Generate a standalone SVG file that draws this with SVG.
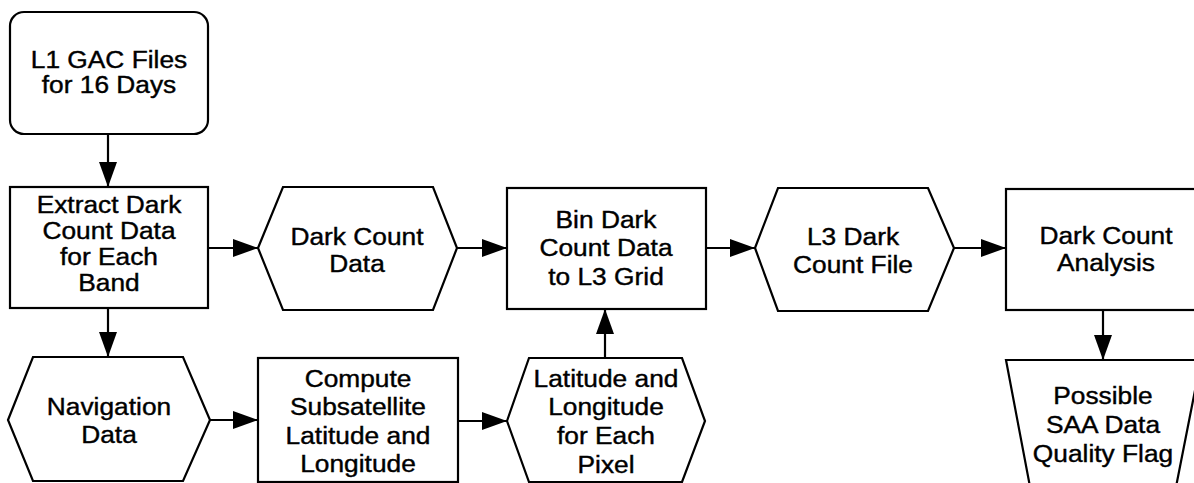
<svg xmlns="http://www.w3.org/2000/svg" width="1194" height="483" viewBox="0 0 1194 483">
<defs>
<style>
.s{fill:#fff;stroke:#000;stroke-width:2.2}
.t{font-family:"Liberation Sans",Arial,Helvetica,sans-serif;font-size:23.5px;fill:#000;stroke:#000;stroke-width:0.4;text-anchor:middle}
.c{stroke:#000;stroke-width:2.2;fill:none}
</style>
<marker id="ah" viewBox="0 0 25 18" refX="25" refY="9" markerWidth="25" markerHeight="18" orient="auto" markerUnits="userSpaceOnUse"><path d="M0,0 L25,9 L0,18 Z" fill="#000"/></marker>
</defs>
<rect width="1194" height="483" fill="#fff"/>
<g id="connectors">
<line class="c" x1="108" y1="134" x2="108" y2="187" marker-end="url(#ah)"/>
<line class="c" x1="208" y1="248" x2="258" y2="248" marker-end="url(#ah)"/>
<line class="c" x1="108" y1="308" x2="108" y2="357" marker-end="url(#ah)"/>
<line class="c" x1="457" y1="248" x2="507" y2="248" marker-end="url(#ah)"/>
<line class="c" x1="210" y1="420" x2="258" y2="420" marker-end="url(#ah)"/>
<line class="c" x1="458" y1="421" x2="507" y2="421" marker-end="url(#ah)"/>
<line class="c" x1="605" y1="358" x2="605" y2="309" marker-end="url(#ah)"/>
<line class="c" x1="706" y1="248" x2="755" y2="248" marker-end="url(#ah)"/>
<line class="c" x1="954" y1="248" x2="1006" y2="248" marker-end="url(#ah)"/>
<line class="c" x1="1103" y1="310" x2="1103" y2="360" marker-end="url(#ah)"/>
</g>
<g id="l1gac">
<rect class="s" x="10" y="12" width="198" height="122" rx="14"/>
<text class="t" transform="translate(109,0) scale(1.12,1)"><tspan x="0" y="68">L1 GAC Files</tspan><tspan x="0" y="93">for 16 Days</tspan></text>
</g>
<g id="extract">
<rect class="s" x="10" y="187" width="198" height="121"/>
<text class="t" transform="translate(109,0) scale(1.12,1)"><tspan x="0" y="213">Extract Dark</tspan><tspan x="0" y="239">Count Data</tspan><tspan x="0" y="265">for Each</tspan><tspan x="0" y="291">Band</tspan></text>
</g>
<g id="darkcountdata">
<polygon class="s" points="258,248 283,187 433,187 457,248 433,310 283,310"/>
<text class="t" transform="translate(357,0) scale(1.12,1)"><tspan x="0" y="245">Dark Count</tspan><tspan x="0" y="272">Data</tspan></text>
</g>
<g id="bin">
<rect class="s" x="507" y="188" width="199" height="121"/>
<text class="t" transform="translate(606,0) scale(1.12,1)"><tspan x="0" y="228">Bin Dark</tspan><tspan x="0" y="256">Count Data</tspan><tspan x="0" y="285">to L3 Grid</tspan></text>
</g>
<g id="l3file">
<polygon class="s" points="755,248 778,188 928,188 954,248 928,311 778,311"/>
<text class="t" transform="translate(853,0) scale(1.12,1)"><tspan x="0" y="245">L3 Dark</tspan><tspan x="0" y="273">Count File</tspan></text>
</g>
<g id="analysis">
<rect class="s" x="1006" y="189" width="200" height="121"/>
<text class="t" transform="translate(1106,0) scale(1.12,1)"><tspan x="0" y="244">Dark Count</tspan><tspan x="0" y="271">Analysis</tspan></text>
</g>
<g id="flag">
<polygon class="s" points="1006,360 1201,360 1175,492 1031,492"/>
<text class="t" transform="translate(1103,0) scale(1.12,1)"><tspan x="0" y="404">Possible</tspan><tspan x="0" y="433">SAA Data</tspan><tspan x="0" y="462">Quality Flag</tspan></text>
</g>
<g id="navigation">
<polygon class="s" points="8,420 33,357 183,357 210,420 183,481 33,481"/>
<text class="t" transform="translate(109,0) scale(1.12,1)"><tspan x="0" y="415">Navigation</tspan><tspan x="0" y="443">Data</tspan></text>
</g>
<g id="compute">
<rect class="s" x="258" y="358" width="200" height="124"/>
<text class="t" transform="translate(358,0) scale(1.12,1)"><tspan x="0" y="387">Compute</tspan><tspan x="0" y="415">Subsatellite</tspan><tspan x="0" y="444">Latitude and</tspan><tspan x="0" y="472">Longitude</tspan></text>
</g>
<g id="latlon">
<polygon class="s" points="507,421 529,358 682,358 705,421 682,482 529,482"/>
<text class="t" transform="translate(606,0) scale(1.12,1)"><tspan x="0" y="387">Latitude and</tspan><tspan x="0" y="415">Longitude</tspan><tspan x="0" y="444">for Each</tspan><tspan x="0" y="473">Pixel</tspan></text>
</g>
</svg>
